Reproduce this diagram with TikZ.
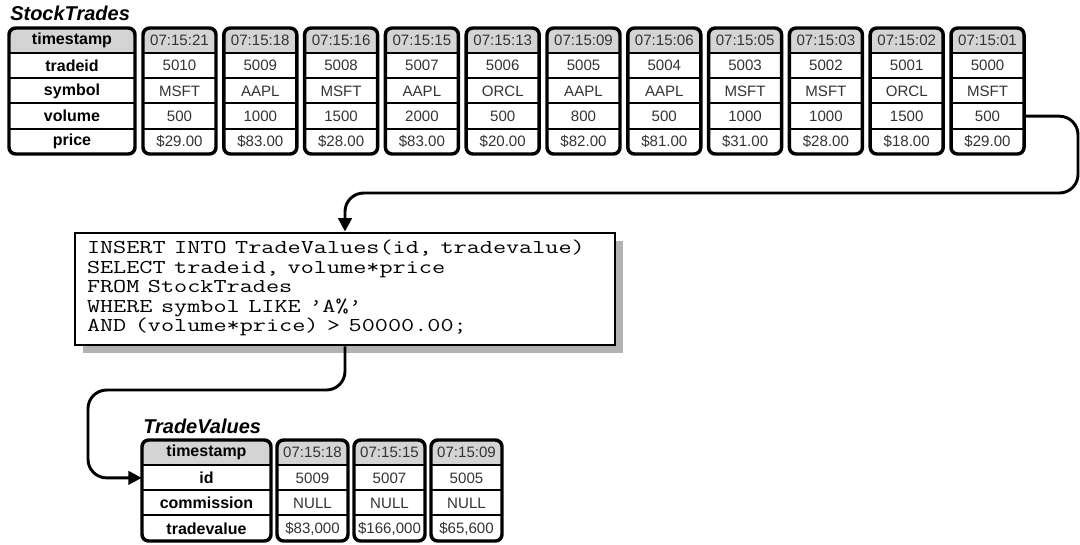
\documentclass[tikz,border=0pt]{standalone}
\usepackage{fontspec}
\setmainfont{Liberation Sans}
\usetikzlibrary{arrows.meta,positioning,shadows}

\def\px{0.75pt}
% wide typewriter lines of the query
\newcommand{\sqllines}[1]{\scalebox{1.3}[1]{\begin{tabular}{@{}l@{}}#1\end{tabular}}}

\tikzset{
  colframe/.style={draw=black, line width=2.6pt, rounded corners=5pt},
  rowline/.style={draw=black, line width=1.5pt},
  headfill/.style={fill=black!17},
  labelcell/.style={inner sep=0pt, font=\bfseries\fontsize{12}{14}\selectfont},
  datacell/.style={inner sep=0pt, text=black!80, font=\fontsize{11.3}{13}\selectfont},
  tabletitle/.style={anchor=base west, inner sep=0pt,
    font=\bfseries\itshape\fontsize{15}{17}\selectfont},
  sqlbox/.style={draw=black, line width=2.2pt, fill=white, align=left,
    inner xsep=9pt, inner ysep=0pt, text width=387pt, minimum height=84pt,
    font=\ttfamily\fontsize{14.7}{14.6}\selectfont,
    drop shadow={shadow xshift=6pt, shadow yshift=-6pt, fill=black!30, opacity=1}},
  flow/.style={line width=2.2pt, rounded corners=14pt,
    -{Triangle[length=10pt,width=10pt]}},
}

% one column of a table: name, left, width, top, row height, rows, cell style, entries
\newcommand{\tablecol}[8]{%
  \begin{scope}
    \clip[rounded corners=5pt] (#2,#4) rectangle ++(#3,#6*#5);
    \fill[headfill] (#2,#4) rectangle ++(#3,#5);
  \end{scope}
  \foreach \e [count=\r] in {#8} {
    \node[#7, minimum width=#3*\px, minimum height=#5*\px] (#1-\r)
      at (#2+#3/2,#4+\r*#5-#5/2) {\e};
    \ifnum\r>1 \draw[rowline] (#1-\r.north west) -- (#1-\r.north east); \fi
  }
  \draw[colframe] (#2,#4) rectangle ++(#3,#6*#5);
}

\begin{document}
\begin{tikzpicture}[x=\px,y=-\px]
  \useasboundingbox (0,0) rectangle (1080,544);

  % StockTrades
  \node[tabletitle] (sttitle) at (10,20) {StockTrades};
  \tablecol{st0}{9}{126}{28}{25.2}{5}{labelcell}{timestamp,tradeid,symbol,volume,price}
  \tablecol{st1}{143}{73}{28}{25.2}{5}{datacell}{07:15:21,5010,MSFT,500,\$29.00}
  \tablecol{st2}{223.8}{73}{28}{25.2}{5}{datacell}{07:15:18,5009,AAPL,1000,\$83.00}
  \tablecol{st3}{304.6}{73}{28}{25.2}{5}{datacell}{07:15:16,5008,MSFT,1500,\$28.00}
  \tablecol{st4}{385.4}{73}{28}{25.2}{5}{datacell}{07:15:15,5007,AAPL,2000,\$83.00}
  \tablecol{st5}{466.2}{73}{28}{25.2}{5}{datacell}{07:15:13,5006,ORCL,500,\$20.00}
  \tablecol{st6}{547}{73}{28}{25.2}{5}{datacell}{07:15:09,5005,AAPL,800,\$82.00}
  \tablecol{st7}{627.8}{73}{28}{25.2}{5}{datacell}{07:15:06,5004,AAPL,500,\$81.00}
  \tablecol{st8}{708.6}{73}{28}{25.2}{5}{datacell}{07:15:05,5003,MSFT,1000,\$31.00}
  \tablecol{st9}{789.4}{73}{28}{25.2}{5}{datacell}{07:15:03,5002,MSFT,1000,\$28.00}
  \tablecol{st10}{870.2}{73}{28}{25.2}{5}{datacell}{07:15:02,5001,ORCL,1500,\$18.00}
  \tablecol{st11}{951}{73}{28}{25.2}{5}{datacell}{07:15:01,5000,MSFT,500,\$29.00}

  % the query
  \node[sqlbox] (sql) at (345,289) {\sqllines{INSERT INTO TradeValues(id, tradevalue)\\
    SELECT tradeid, volume*price\\
    FROM StockTrades\\
    WHERE symbol LIKE \textquoteright A\%\textquoteright\\
    AND (volume*price) > 50000.00;}};

  % TradeValues
  \node[tabletitle] (tvtitle) at (143,433) {TradeValues};
  \tablecol{tv0}{142}{129}{440}{25.25}{4}{labelcell}{timestamp,id,commission,tradevalue}
  \tablecol{tv1}{277}{71}{440}{25.25}{4}{datacell}{07:15:18,5009,NULL,{\$83,000}}
  \tablecol{tv2}{354}{71}{440}{25.25}{4}{datacell}{07:15:15,5007,NULL,{\$166,000}}
  \tablecol{tv3}{431}{71}{440}{25.25}{4}{datacell}{07:15:09,5005,NULL,{\$65,600}}

  % flow
  \coordinate (turn1) at (1078,193);
  \coordinate (turn2) at (88,390);
  \draw[flow] (st11-4.east) -| (turn1) -| (sql.north);
  \draw[flow] (sql.south) |- (turn2) |- (tv0-2.west);
\end{tikzpicture}
\end{document}
